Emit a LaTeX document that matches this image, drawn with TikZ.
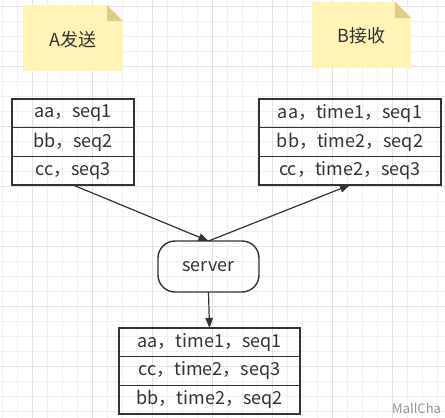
\documentclass[tikz,border=0pt]{standalone}
\usepackage{fontspec}
\setmainfont{Noto Sans CJK SC}
\usetikzlibrary{arrows.meta,positioning}
\definecolor{gridminor}{HTML}{F0F0F0}
\definecolor{gridmajor}{HTML}{E2E2E2}
\definecolor{notefill}{HTML}{FFF4B6}
\definecolor{notefold}{HTML}{E3CB85}
\definecolor{ink}{HTML}{333333}
\tikzset{
  row/.style={draw=ink, line width=1.4pt, text=ink, font=\fontsize{18}{18}\selectfont,
    minimum height=28.7pt, inner sep=0pt, outer sep=0pt, anchor=north west},
  notetext/.style={text=ink, font=\fontsize{18}{18}\selectfont},
  conn/.style={draw=ink, line width=1.2pt, -{Triangle[length=10pt,width=7.5pt]}},
}
\begin{document}
\begin{tikzpicture}[x=1pt,y=-1pt]
\useasboundingbox (0,0) rectangle (445,418);
\fill[white] (0,0) rectangle (445,418);
% grid
\foreach \i in {0,...,29} {\draw[gridminor, line width=0.8pt] ({2+15*\i},0) -- ({2+15*\i},418);}
\foreach \i in {0,...,27} {\draw[gridminor, line width=0.8pt] (0,{6+15*\i}) -- (445,{6+15*\i});}
\foreach \i in {0,...,7} {\draw[gridmajor, line width=0.8pt] ({32+60*\i},0) -- ({32+60*\i},418);}
\foreach \i in {0,...,6} {\draw[gridmajor, line width=0.8pt] (0,{6+60*\i}) -- (445,{6+60*\i});}
% notes
\fill[notefill] (23,5) -- (107,5) -- (123,21) -- (123,71) -- (23,71) -- cycle;
\fill[notefold] (107,5) -- (123,21) -- (107,21) -- cycle;
\node[notetext] (na) at (73,40) {A发送};
\fill[notefill] (312,2) -- (395,2) -- (411,18) -- (411,68) -- (312,68) -- cycle;
\fill[notefold] (395,2) -- (411,18) -- (395,18) -- cycle;
\node[notetext] (nb) at (361.5,36) {B接收};
% table A
\node[row, minimum width=122pt] (a1) at (12,99) {aa，seq1};
\node[row, minimum width=122pt] (a2) at (12,127.7) {bb，seq2};
\node[row, minimum width=122pt] (a3) at (12,156.3) {cc，seq3};
% table B
\node[row, minimum width=182pt] (b1) at (259,99) {aa，time1，seq1};
\node[row, minimum width=182pt] (b2) at (259,127.7) {bb，time2，seq2};
\node[row, minimum width=182pt] (b3) at (259,156.3) {cc，time2，seq3};
% server
\node[draw=ink, line width=1.4pt, outer sep=0pt, rounded corners=17pt, minimum width=101pt, minimum height=51pt,
  text=ink, font=\fontsize{18}{18}\selectfont] (srv) at (208.5,266.5) {server};
% table C
\node[row, minimum width=181pt] (c1) at (119,328) {aa，time1，seq1};
\node[row, minimum width=181pt] (c2) at (119,356.7) {cc，time2，seq3};
\node[row, minimum width=181pt] (c3) at (119,385.3) {bb，time2，seq2};
% connectors
\draw[conn] (a3.south) -- (srv.north);
\draw[conn] (srv.north) -- (b3.south);
\draw[conn] (srv.south) -- (c1.north);
% watermark
\node[anchor=base west, inner sep=0pt, text=black!42, font=\fontsize{13}{13}\selectfont] (wm) at (392,413) {MallCha};
\end{tikzpicture}
\end{document}
